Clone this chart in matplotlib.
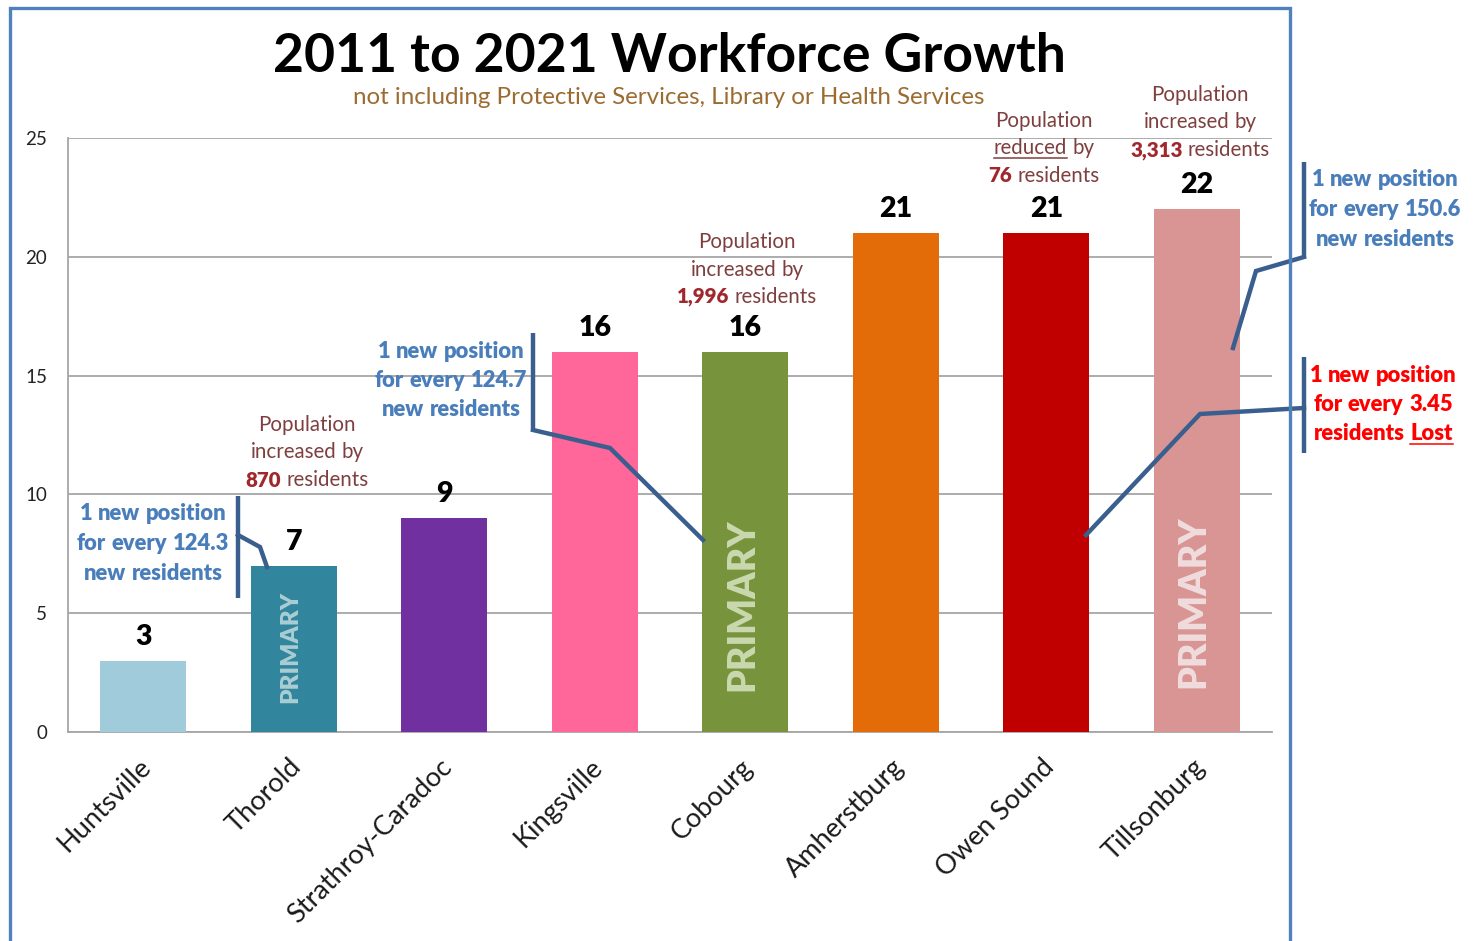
import numpy as np
import matplotlib
matplotlib.use("Agg")
import matplotlib.pyplot as plt
import matplotlib.transforms as mtransforms
from matplotlib.lines import Line2D

W, H, DPI = 1474, 941, 100

# ---- data -------------------------------------------------------------
towns = ["Huntsville", "Thorold", "Strathroy-Caradoc", "Kingsville",
         "Cobourg", "Amherstburg", "Owen Sound", "Tillsonburg"]
new_positions = [3, 7, 9, 16, 16, 21, 21, 22]
bar_colors = ["#9FCBDB", "#31859C", "#7030A0", "#FF6699",
              "#77933C", "#E36C09", "#C00000", "#D99594"]
y_ticks = [0, 5, 10, 15, 20, 25]

pop_towns = ["Thorold", "Cobourg", "Owen Sound", "Tillsonburg"]
pop_verbs = ["increased", "increased", "reduced", "increased"]
pop_counts = ["870", "1,996", "76", "3,313"]

primary_towns = ["Thorold", "Cobourg", "Tillsonburg"]
primary_colors = ["#AACDD4", "#C9D8AE", "#F0DCDC"]
primary_sizes = [17.5, 27, 27]

ratio_values = ["124.3", "124.7", "150.6", "3.45"]

# ---- styling ----------------------------------------------------------
plt.rcParams["font.family"] = ["Lato", "DejaVu Sans"]
FRAME = "#4F81BD"
LEADER = "#3A5F8E"
CALLOUT_BLUE = "#4A7EBB"
POP_TEXT = "#7F3F3F"
POP_NUM = "#A0282D"
GRID = "#A6A6A6"
HEAVY = "heavy"

fig = plt.figure(figsize=(W / DPI, H / DPI), dpi=DPI)


def fx(px):
    return px / W


def fy(py):
    return 1 - py / H


ax = fig.add_axes([fx(68), fy(732), (1272 - 68) / W, (732 - 138) / H])
x = np.arange(len(towns))
ax.bar(x, new_positions, width=0.57, color=bar_colors, zorder=3)
ax.set_xlim(-0.5, len(towns) - 0.5)
ax.set_ylim(0, 25)
ax.set_yticks(y_ticks)
ax.grid(axis="y", color=GRID, lw=1.3, zorder=0)
for side in ("top", "right"):
    ax.spines[side].set_visible(False)
for side in ("left", "bottom"):
    ax.spines[side].set_color(GRID)
    ax.spines[side].set_linewidth(1.3)
ax.tick_params(axis="y", length=0, pad=15, labelsize=13.5, labelcolor="#222222")
ax.tick_params(axis="x", length=0, pad=16)
ax.set_xticks(x)
ax.set_xticklabels(towns, rotation=45, ha="right", va="top",
                   rotation_mode="anchor", fontsize=19.5, color="#1A1A1A")
shift = mtransforms.ScaledTranslation(-5 / DPI, 0, fig.dpi_scale_trans)
for lbl in ax.get_xticklabels():
    lbl.set_transform(lbl.get_transform() + shift)

# value labels
for xi, v in zip(x, new_positions):
    ax.text(xi, v + 0.67, str(v), ha="center", va="baseline",
            fontsize=20.5, fontweight=HEAVY, color="black", zorder=5)

# rotated PRIMARY labels
primary_y = {"Thorold": 3.6, "Cobourg": 5.35, "Tillsonburg": 5.47}
for t, c, s in zip(primary_towns, primary_colors, primary_sizes):
    i = towns.index(t)
    ax.text(i - 0.02, primary_y[t], "PRIMARY", rotation=90, ha="center",
            va="center", fontsize=s, fontweight=HEAVY, color=c, zorder=5)

# ---- titles -----------------------------------------------------------
fig.text(fx(669), fy(56), "2011 to 2021 Workforce Growth", ha="center",
         va="center", fontsize=38.5, fontweight="bold", color="black")
fig.text(fx(669), fy(97), "not including Protective Services, Library or Health Services",
         ha="center", va="center", fontsize=17.4, color="#9C6B30")

renderer = fig.canvas.get_renderer()


def text_width(s, size, weight):
    t = fig.text(0, 0, s, fontsize=size, fontweight=weight)
    w = t.get_window_extent(renderer).width
    t.remove()
    return w


def rich_line(cx, cy, segments, size):
    """Draw one centred line made of differently styled pieces."""
    arts, widths = [], []
    for s, st in segments:
        t = fig.text(0, 0, s, fontsize=size, color=st["color"],
                     fontweight=st.get("weight", "normal"),
                     ha="left", va="center")
        arts.append(t)
        widths.append(t.get_window_extent(renderer).width)
    sp = text_width("a a", size, "normal") - text_width("aa", size, "normal")
    total = sum(widths) + sp * (len(segments) - 1)
    x0 = cx - total / 2
    for t, w, (s, st) in zip(arts, widths, segments):
        t.set_position((fx(x0), fy(cy)))
        if st.get("underline"):
            uy = cy + size * DPI / 72 * 0.45
            fig.add_artist(Line2D([fx(x0), fx(x0 + w)], [fy(uy), fy(uy)],
                                  color=st["color"], lw=1.1))
        x0 += w + sp


# population change notes
pop_xy = {"Thorold": (307, 425), "Cobourg": (747, 242),
          "Owen Sound": (1044, 121), "Tillsonburg": (1200, 95)}
POP_SIZE = 14.8
for t, verb, cnt in zip(pop_towns, pop_verbs, pop_counts):
    cx, cy = pop_xy[t]
    reg = {"color": POP_TEXT}
    rich_line(cx, cy, [("Population", reg)], POP_SIZE)
    rich_line(cx, cy + 27.5, [(verb, dict(reg, underline=(verb == "reduced"))),
                              ("by", reg)], POP_SIZE)
    rich_line(cx, cy + 55, [(cnt, {"color": POP_NUM, "weight": HEAVY}),
                            ("residents", reg)], POP_SIZE)

# residents-per-position callouts
CALL_SIZE = 15.8
call_xy = [(153, 514), (451, 351), (1385, 180), (1383, 375)]
for k, (val, (cx, cy)) in enumerate(zip(ratio_values, call_xy)):
    lost = k == 3
    col = "#FF0000" if lost else CALLOUT_BLUE
    b = {"color": col, "weight": HEAVY}
    rich_line(cx, cy, [("1", b), ("new", b), ("position", b)], CALL_SIZE)
    rich_line(cx, cy + 29.5, [("for", b), ("every", b), (val, b)], CALL_SIZE)
    if lost:
        rich_line(cx, cy + 59, [("residents", b), ("Lost", dict(b, underline=True))],
                  CALL_SIZE)
    else:
        rich_line(cx, cy + 59, [("new", b), ("residents", b)], CALL_SIZE)

# bracket bars and leader lines
brackets = [(238, 496, 598), (533, 333, 430), (1304, 162, 257), (1304, 357, 453)]
for bx, y0, y1 in brackets:
    fig.add_artist(Line2D([fx(bx)] * 2, [fy(y0), fy(y1)], color=LEADER,
                          lw=3.2, solid_capstyle="butt", zorder=6))
leaders = [
    [(238, 535), (260, 547), (267, 567)],
    [(533, 430), (610, 448), (703, 540)],
    [(1304, 257), (1256, 271), (1233, 348)],
    [(1304, 408), (1200, 414), (1086, 535)],
]
for pts in leaders:
    xs = [fx(p[0]) for p in pts]
    ys = [fy(p[1]) for p in pts]
    fig.add_artist(Line2D(xs, ys, color=LEADER, lw=3.2, zorder=6,
                          solid_joinstyle="miter"))

# outer frame (open at the bottom)
fig.add_artist(Line2D([fx(10), fx(10), fx(1290), fx(1290)],
                      [0, fy(8), fy(8), 0], color=FRAME, lw=2.4,
                      solid_joinstyle="miter", zorder=7))

fig.savefig("out.png", dpi=DPI)
